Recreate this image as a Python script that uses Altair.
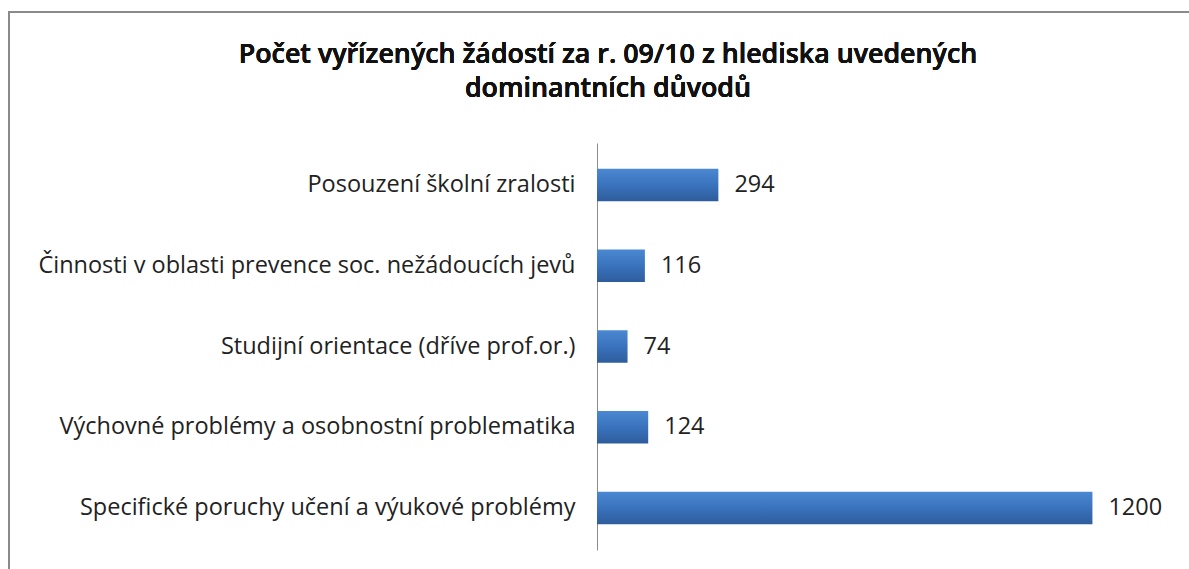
import altair as alt
import pandas as pd

categories = [
    "Posouzení školní zralosti",
    "Činnosti v oblasti prevence soc. nežádoucích jevů",
    "Studijní orientace (dříve prof.or.)",
    "Výchovné problémy a osobnostní problematika",
    "Specifické poruchy učení a výukové problémy",
]
values = [294, 116, 74, 124, 1200]

df = pd.DataFrame({"kategorie": categories, "pocet": values})

FONT = "Open Sans"
W, H = 578, 407
LEFT, TOP = 597, 143

grad = alt.Gradient(
    gradient="linear",
    stops=[
        alt.GradientStop(color="#4b88d2", offset=0),
        alt.GradientStop(color="#3a72bd", offset=0.5),
        alt.GradientStop(color="#2e5d9c", offset=1),
    ],
    x1=0, x2=0, y1=0, y2=1,
)

y_enc = alt.Y(
    "kategorie:N",
    sort=categories,
    scale=alt.Scale(paddingInner=0.6, paddingOuter=0.32),
    axis=alt.Axis(
        title=None,
        ticks=False,
        labelFont=FONT,
        labelFontSize=23.5,
        labelColor="#222222",
        labelPadding=22,
        labelLimit=600,
        domainColor="#8c8c8c",
        domainWidth=1,
    ),
)
x_enc = alt.X("pocet:Q", scale=alt.Scale(domain=[0, 1400], nice=False), axis=None)

frame = alt.Chart(df).mark_rect(
    fillOpacity=0, stroke="#8a8a8a", strokeWidth=2
).encode(
    x=alt.value(9 - LEFT), x2=alt.value(1189 - LEFT + 20),
    y=alt.value(12 - TOP), y2=alt.value(569 - TOP + 20),
)

bars = alt.Chart(df).mark_bar(color=grad).encode(x=x_enc, y=y_enc)

labels = alt.Chart(df).mark_text(
    align="left", dx=16, font=FONT, fontSize=23.5, color="#222222"
).encode(x=x_enc, y=y_enc, text="pocet:Q")

title1 = alt.Chart(df).mark_text(
    font=FONT, fontSize=26.8, fontWeight=600, color="#111111",
    align="center", baseline="alphabetic",
).encode(
    x=alt.value(608 - LEFT), y=alt.value(63 - TOP),
    text=alt.value("Počet vyřízených žádostí za r. 09/10 z hlediska uvedených"),
)
title2 = alt.Chart(df).mark_text(
    font=FONT, fontSize=26.8, fontWeight=600, color="#111111",
    align="center", baseline="alphabetic",
).encode(
    x=alt.value(608 - LEFT), y=alt.value(97 - TOP),
    text=alt.value("dominantních důvodů"),
)

chart = alt.layer(frame, bars, labels, title1, title2).properties(
    width=W, height=H,
    padding={"left": LEFT, "top": TOP, "right": 1189 - LEFT - W, "bottom": 569 - TOP - H},
    autosize=alt.AutoSizeParams(type="none"),
    background="white",
).configure_view(stroke=None)

chart.save("out.html", embed_options={"renderer": "svg", "actions": False})
